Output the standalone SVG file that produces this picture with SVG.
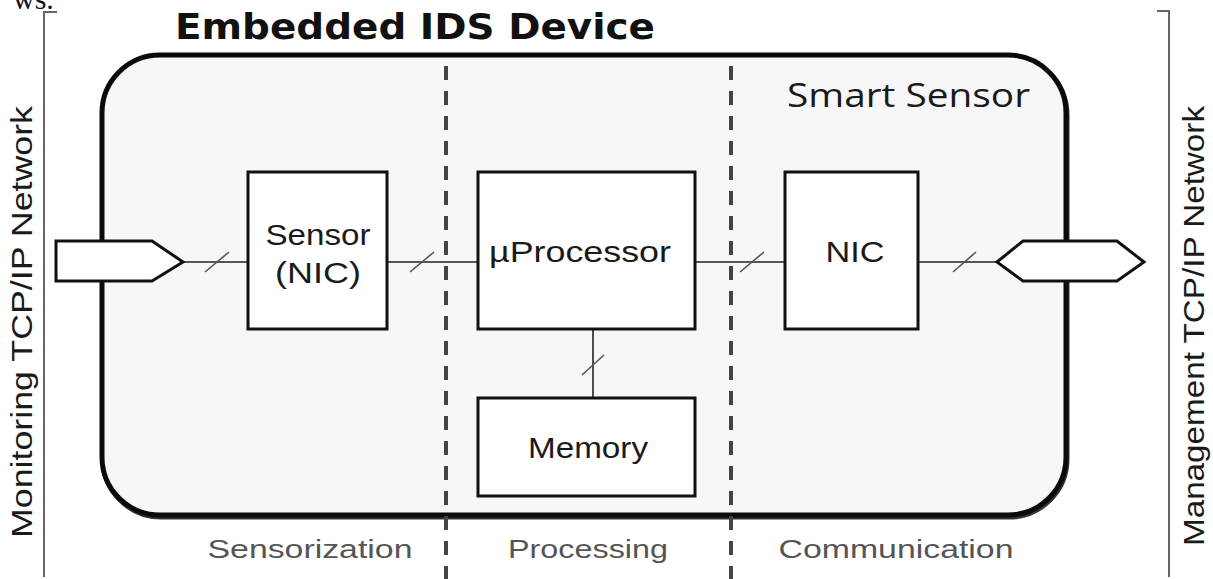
<svg xmlns="http://www.w3.org/2000/svg" width="1213" height="579" viewBox="0 0 1213 579">
  <defs>
    <style>
      .box { fill: #ffffff; stroke: #111; stroke-width: 3; }
      .lbl { font-family: "Liberation Sans", Arial, sans-serif; font-size: 30px; fill: #1a1a1a; text-anchor: middle; }
      .wire { stroke: #222; stroke-width: 1.6; fill: none; }
      .slash { stroke: #555; stroke-width: 1.6; fill: none; }
      .zone { stroke: #444; stroke-width: 4; stroke-dasharray: 14 11; fill: none; }
      .phase { font-family: "Liberation Sans", Arial, sans-serif; font-size: 26px; fill: #555; text-anchor: middle; }
      .side { font-family: "Liberation Sans", Arial, sans-serif; font-size: 30px; fill: #1a1a1a; text-anchor: middle; }
      .bracket { stroke: #666; stroke-width: 2; fill: none; }
      .port { fill: #ffffff; stroke: #111; stroke-width: 3; stroke-linejoin: miter; }
    </style>
  </defs>

  <rect x="0" y="0" width="1213" height="579" fill="#ffffff"/>

  <!-- trailing text from the preceding line -->
  <text x="13" y="9" font-family="Liberation Serif, serif" font-size="30" fill="#111">ws.</text>

  <!-- outer brackets -->
  <g id="brackets">
    <path class="bracket" d="M57 12 H44 V577"/>
    <path class="bracket" d="M1157 11 H1169 V577"/>
  </g>

  <!-- side network labels -->
  <text class="side" transform="translate(32 322) rotate(-90)" textLength="432" lengthAdjust="spacingAndGlyphs">Monitoring TCP/IP Network</text>
  <text class="side" transform="translate(1204 326) rotate(-90)" textLength="440" lengthAdjust="spacingAndGlyphs">Management TCP/IP Network</text>

  <!-- title -->
  <text x="175" y="39" font-family="DejaVu Sans, Verdana, sans-serif" font-weight="bold" font-size="35" fill="#111" textLength="480" lengthAdjust="spacingAndGlyphs">Embedded IDS Device</text>

  <!-- smart sensor enclosure -->
  <g id="smart-sensor">
    <rect x="103" y="57" width="964" height="460" rx="58" ry="58" fill="none" stroke="#333" stroke-width="5"/>
    <rect x="102" y="55" width="964" height="460" rx="58" ry="58" fill="#f7f7f7" stroke="#0a0a0a" stroke-width="5"/>
    <text x="787" y="107" font-family="Open Sans, Noto Sans, sans-serif" font-size="32" fill="#1a1a1a" textLength="243" lengthAdjust="spacingAndGlyphs">Smart Sensor</text>
  </g>

  <!-- stage separators -->
  <g id="zones">
    <line class="zone" x1="446" y1="66" x2="446" y2="579"/>
    <line class="zone" x1="731" y1="66" x2="731" y2="579"/>
  </g>

  <!-- connectors -->
  <g id="connectors">
    <line class="wire" x1="183" y1="262" x2="248" y2="262"/>
    <line class="slash" x1="205" y1="272" x2="229" y2="252"/>
    <line class="wire" x1="387" y1="262" x2="478" y2="262"/>
    <line class="slash" x1="410" y1="272" x2="434" y2="252"/>
    <line class="wire" x1="695" y1="262" x2="785" y2="262"/>
    <line class="slash" x1="740" y1="272" x2="764" y2="252"/>
    <line class="wire" x1="918" y1="262" x2="997" y2="262"/>
    <line class="slash" x1="953" y1="272" x2="976" y2="252"/>
    <line class="wire" x1="593" y1="329" x2="593" y2="398"/>
    <line class="slash" x1="582" y1="375" x2="604" y2="355"/>
  </g>

  <!-- ports -->
  <g id="port-in">
    <polygon class="port" points="56,241 152,241 183,262 152,281 56,281"/>
  </g>
  <g id="port-out">
    <polygon class="port" points="997,262 1023,241 1117,241 1144,262 1117,281 1023,281"/>
  </g>

  <!-- functional blocks -->
  <g id="sensor-nic">
    <rect class="box" x="248" y="172" width="139" height="157"/>
    <text class="lbl" x="318" y="245" textLength="105" lengthAdjust="spacingAndGlyphs">Sensor</text>
    <text class="lbl" x="318" y="283" textLength="86" lengthAdjust="spacingAndGlyphs">(NIC)</text>
  </g>
  <g id="uprocessor">
    <rect class="box" x="478" y="172" width="217" height="157"/>
    <text class="lbl" x="580" y="262" textLength="182" lengthAdjust="spacingAndGlyphs">µProcessor</text>
  </g>
  <g id="nic">
    <rect class="box" x="785" y="172" width="133" height="157"/>
    <text class="lbl" x="855" y="262" textLength="59" lengthAdjust="spacingAndGlyphs">NIC</text>
  </g>
  <g id="memory">
    <rect class="box" x="478" y="398" width="217" height="98"/>
    <text class="lbl" x="588" y="458" textLength="120" lengthAdjust="spacingAndGlyphs">Memory</text>
  </g>

  <!-- stage captions -->
  <g id="phases">
    <text class="phase" x="310" y="558" textLength="205" lengthAdjust="spacingAndGlyphs">Sensorization</text>
    <text class="phase" x="588" y="558" textLength="160" lengthAdjust="spacingAndGlyphs">Processing</text>
    <text class="phase" x="896" y="558" textLength="235" lengthAdjust="spacingAndGlyphs">Communication</text>
  </g>
</svg>
